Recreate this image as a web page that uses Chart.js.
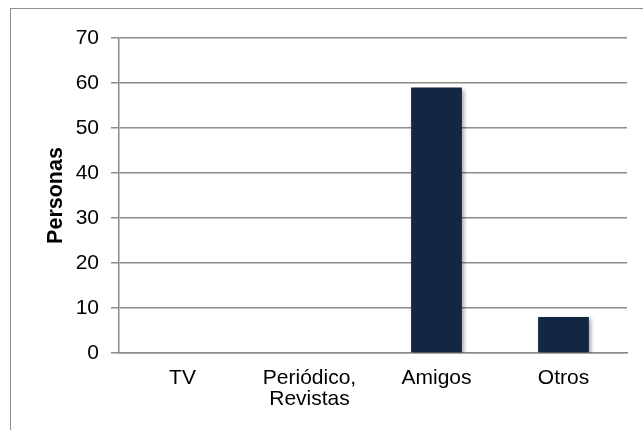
<!DOCTYPE html>
<html lang="es">
<head>
    <meta charset="UTF-8">
    <title>Personas</title>
    <script src="https://cdn.jsdelivr.net/npm/chart.js@4.4.0/dist/chart.umd.min.js"></script>
    <style>
        body {
            margin: 0;
            padding: 0;
            background-color: #ffffff;
            overflow: hidden;
        }

        .frame {
            position: absolute;
            left: 10px;
            top: 8px;
            width: 700px;
            height: 500px;
            border-left: 1px solid #8c8c8c;
            border-top: 1px solid #8c8c8c;
        }

        .chart-box {
            position: absolute;
            left: 0;
            top: 0;
            width: 643px;
            height: 430px;
        }
    </style>
</head>
<body>
    <div class="frame"></div>
    <div class="chart-box">
        <canvas id="barChart" width="643" height="430"></canvas>
    </div>

    <script>
        // Chart data
        const categories = [['TV'], ['Periódico,', 'Revistas'], ['Amigos'], ['Otros']];
        const personas = [0, 0, 59, 8];
        const yTicks = { min: 0, max: 70, step: 10 };

        const gridColor = '#8c8c8c';
        const barColor = '#132742';

        // soft shadow behind the bars, like the original
        const barShadow = {
            id: 'barShadow',
            beforeDatasetsDraw(chart) {
                const ctx = chart.ctx;
                ctx.save();
                ctx.shadowColor = 'rgba(0, 0, 0, 0.35)';
                ctx.shadowBlur = 4;
                ctx.shadowOffsetX = 2;
                ctx.shadowOffsetY = 2;
            },
            afterDatasetsDraw(chart) {
                chart.ctx.restore();
            }
        };

        const ctx = document.getElementById('barChart').getContext('2d');
        new Chart(ctx, {
            type: 'bar',
            data: {
                labels: categories,
                datasets: [{
                    label: 'Personas',
                    data: personas,
                    backgroundColor: barColor,
                    borderWidth: 0,
                    barPercentage: 0.4,
                    categoryPercentage: 1.0
                }]
            },
            options: {
                responsive: false,
                animation: false,
                layout: {
                    padding: { top: 38, right: 16, bottom: 0, left: 0 }
                },
                plugins: {
                    legend: { display: false },
                    tooltip: { enabled: false }
                },
                scales: {
                    x: {
                        grid: { display: false, drawTicks: false },
                        border: { display: true, color: gridColor, width: 1.5 },
                        ticks: {
                            color: '#000000',
                            font: { family: 'Liberation Sans, Arial, sans-serif', size: 21, lineHeight: 1.0 },
                            padding: 15,
                            maxRotation: 0,
                            autoSkip: false
                        },
                        afterFit(scale) {
                            scale.height = 77;
                        }
                    },
                    y: {
                        min: yTicks.min,
                        max: yTicks.max,
                        grid: {
                            color: gridColor,
                            lineWidth: 1.5,
                            tickLength: 8
                        },
                        border: { display: true, color: gridColor, width: 1.5 },
                        ticks: {
                            stepSize: yTicks.step,
                            color: '#000000',
                            font: { family: 'Liberation Sans, Arial, sans-serif', size: 21 },
                            padding: 12
                        },
                        title: {
                            display: true,
                            text: 'Personas',
                            color: '#000000',
                            font: { family: 'Liberation Sans, Arial, sans-serif', size: 21.5, weight: 'bold' },
                            padding: { top: 43, bottom: 0 }
                        },
                        afterFit(scale) {
                            scale.width = 119;
                        }
                    }
                }
            },
            plugins: [barShadow]
        });
    </script>
</body>
</html>
